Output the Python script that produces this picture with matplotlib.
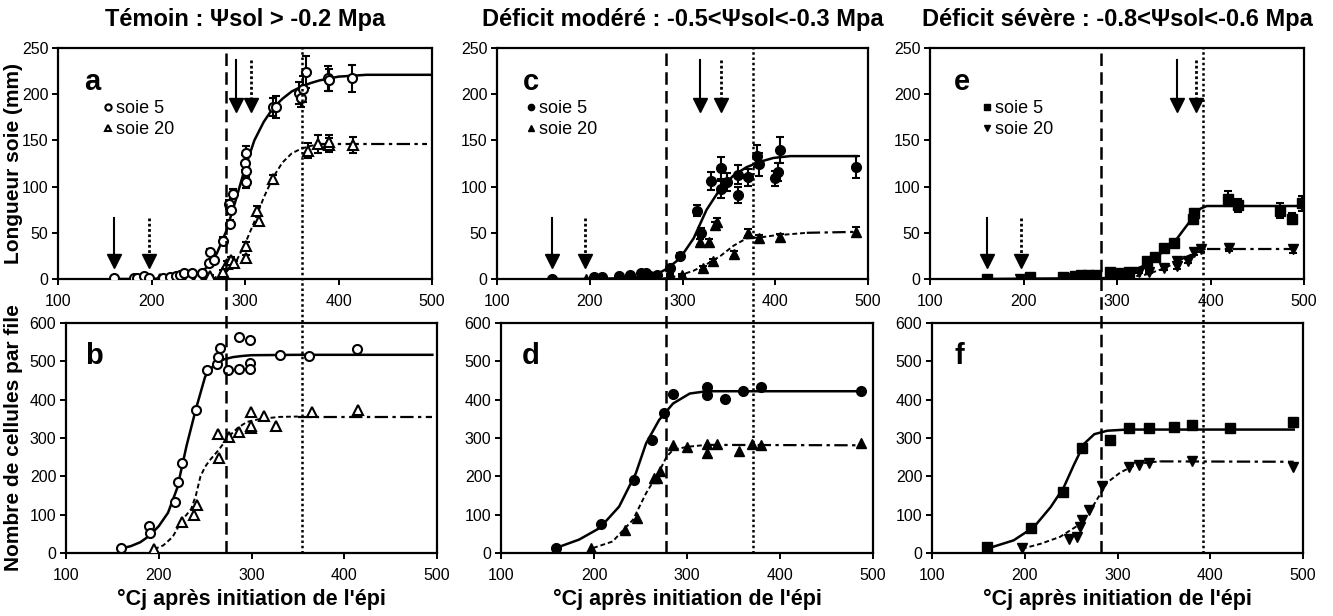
import numpy as np
import matplotlib
matplotlib.use("Agg")
import matplotlib.pyplot as plt
from matplotlib.lines import Line2D
from matplotlib.transforms import blended_transform_factory

plt.rcParams['font.family'] = ['Liberation Sans', 'DejaVu Sans']

# ---- longueur des soies (mm), panneaux a / c / e ----
a5_x = [160, 181, 184, 192, 197, 212, 220, 226, 230, 235, 243, 254, 261, 263, 267, 276, 283, 284, 285, 287,
        300, 301, 301, 301, 330, 333, 358, 360, 362, 365, 389, 390, 414]
a5_y = [1, 1, 1, 3, 1, 1, 2, 3, 4, 6, 6, 7, 17, 29, 21, 41, 81, 60, 75, 92,
        126, 117, 105, 136, 186, 186, 201, 196, 206, 224, 217, 215, 217]
a5_e = [1, 1, 1, 1, 1, 1, 1, 1, 1, 2, 2, 2, 3, 3, 3, 4, 5, 4, 5, 5,
        8, 8, 7, 8, 10, 12, 12, 10, 14, 17, 13, 12, 15]
a20_x = [195, 209, 220, 232, 240, 250, 263, 277, 281, 285, 288, 301, 301, 313, 315, 330, 367, 378, 390, 390, 416]
a20_y = [0, 0, 1, 1, 2, 2, 3, 8, 16, 21, 17, 36, 23, 74, 63, 108, 139, 146, 145, 148, 145]
a20_e = [0, 0, 0, 0, 1, 1, 1, 2, 3, 3, 3, 4, 3, 5, 5, 5, 8, 10, 8, 8, 9]
a5_fit_x = [160, 200, 230, 250, 260, 270, 280, 290, 300, 310, 320, 330, 340, 350, 360, 370, 380, 400, 430, 500]
a5_fit_y = [0, 0, 2, 6, 13, 28, 52, 85, 120, 150, 170, 185, 195, 203, 208, 212, 215, 219, 221, 221]
a20_fit_x = [265, 280, 290, 300, 310, 320, 330, 340, 350, 360, 370, 380, 495]
a20_fit_y = [0, 8, 18, 38, 62, 88, 110, 126, 136, 141, 144, 146, 146]

c5_x = [159, 205, 213, 231, 243, 255, 261, 265, 272, 287, 297, 316, 320, 331, 341, 342, 348, 360, 360, 371,
        380, 382, 400, 403, 405, 487]
c5_y = [0, 2, 2, 3, 4, 6, 6, 3, 4, 12, 25, 74, 50, 106, 120, 97, 105, 91, 113, 110,
        133, 124, 109, 116, 140, 121]
c5_e = [0, 0, 0, 0, 0, 1, 1, 0, 1, 2, 3, 6, 5, 10, 12, 9, 10, 9, 10, 9, 12, 12, 8, 10, 14, 12]
c20_x = [196, 247, 265, 287, 299, 319, 322, 329, 333, 335, 337, 355, 371, 382, 405, 487]
c20_y = [0, 1, 1, 4, 4, 40, 12, 40, 20, 58, 62, 27, 50, 44, 45, 51]
c20_e = [0, 0, 0, 1, 1, 3, 2, 3, 2, 4, 4, 3, 4, 4, 4, 5]
c5_fit_x = [160, 200, 240, 270, 283, 297, 312, 326, 341, 355, 369, 384, 398, 416, 434, 488]
c5_fit_y = [0, 0, 1, 4, 11, 22, 44, 75, 98, 112, 121, 127, 131, 133, 133, 133]
c20_fit_x = [195, 240, 270, 283, 297, 312, 326, 341, 355, 369, 384, 398, 434, 488]
c20_fit_y = [0, 0, 0, 1, 4, 9, 16, 25, 36, 44, 45, 47, 50, 51]

e5_x = [161, 207, 242, 250, 255, 262, 269, 278, 292, 302, 313, 332, 341, 350, 361, 381, 382, 419, 429, 474, 487, 498]
e5_y = [0, 2, 2, 1, 3, 4, 4, 4, 8, 7, 8, 20, 24, 34, 39, 65, 71, 87, 80, 74, 65, 82]
e5_e = [0, 0, 0, 0, 0, 0, 0, 0, 2, 1, 2, 2, 2, 3, 3, 5, 5, 8, 7, 8, 6, 8]
e20_x = [196, 250, 257, 266, 296, 312, 323, 334, 350, 364, 364, 376, 382, 390, 420, 488]
e20_y = [0, 0, 0, 0, 4, 4, 8, 8, 12, 14, 20, 20, 29, 32, 34, 32]
e20_e = [0, 0, 0, 0, 1, 1, 1, 1, 2, 3, 3, 3, 3, 3, 4, 4]
e5_fit_x = [160, 290, 296, 317, 332, 346, 360, 371, 380, 389, 396, 500]
e5_fit_y = [0, 1, 3, 9, 16, 27, 38, 53, 65, 76, 79, 79]
e20_fit_x = [196, 296, 317, 332, 346, 360, 374, 385, 396, 490]
e20_fit_y = [0, 0, 2.5, 5, 10, 16, 24, 29, 33, 33]

# ---- nombre de cellules par file, panneaux b / d / f ----
b5_x = [159, 190, 191, 217, 221, 225, 240, 252, 263, 264, 266, 275, 286, 286, 298, 298, 298, 331, 362, 414]
b5_y = [12, 70, 52, 133, 185, 236, 373, 477, 494, 512, 536, 477, 564, 479, 555, 496, 480, 516, 515, 532]
b20_x = [195, 225, 238, 241, 264, 265, 276, 287, 299, 299, 299, 314, 326, 365, 415]
b20_y = [10, 82, 100, 126, 310, 247, 303, 316, 368, 325, 331, 357, 331, 368, 373]
b5_fit_x = [160, 170, 180, 190, 200, 210, 220, 230, 240, 250, 260, 270, 280, 290, 300, 350, 400, 495]
b5_fit_y = [12, 18, 28, 45, 70, 105, 170, 280, 375, 460, 492, 505, 511, 514, 516, 517, 517, 517]
b20_fit_x = [195, 205, 215, 225, 235, 240, 245, 250, 255, 265, 275, 285, 295, 310, 330, 350, 495]
b20_fit_y = [10, 20, 42, 85, 115, 150, 200, 225, 242, 270, 303, 326, 342, 350, 355, 356, 356]

d5_x = [159, 207, 243, 262, 275, 285, 321, 322, 341, 360, 380, 487]
d5_y = [13, 76, 191, 295, 366, 414, 432, 412, 401, 423, 432, 423]
d20_x = [197, 233, 246, 265, 268, 271, 285, 300, 321, 322, 332, 356, 370, 380, 487]
d20_y = [13, 59, 91, 195, 195, 214, 282, 277, 284, 262, 284, 266, 284, 281, 288]
d5_fit_x = [159, 184, 206, 227, 245, 256, 270, 285, 303, 321, 487]
d5_fit_y = [13, 35, 65, 121, 208, 286, 347, 390, 416, 422, 422]
d20_fit_x = [199, 220, 242, 256, 270, 278, 285, 300, 321, 487]
d20_fit_y = [13, 30, 87, 156, 212, 251, 269, 277, 282, 281]

f5_x = [159, 207, 241, 262, 292, 312, 334, 361, 380, 421, 489]
f5_y = [16, 66, 158, 275, 295, 325, 325, 330, 334, 327, 342]
f20_x = [197, 248, 256, 260, 262, 269, 283, 312, 323, 334, 380, 489]
f20_y = [12, 37, 43, 68, 85, 113, 176, 225, 230, 235, 241, 225]
f5_fit_x = [159, 188, 210, 228, 242, 253, 264, 275, 289, 310, 490]
f5_fit_y = [11, 33, 68, 120, 171, 230, 285, 310, 319, 322, 322]
f20_fit_x = [197, 217, 238, 260, 275, 289, 303, 318, 332, 346, 490]
f20_fit_y = [11, 24, 42, 76, 128, 184, 210, 228, 236, 239, 238]

# fleches (soie 5 / soie 20) et lignes verticales (tirets / pointilles)
arrows5 = [[160, 290], [159, 319], [161, 364]]
arrows20 = [[197, 306], [195, 342], [197, 385]]
vline_dash = [272.5, 277.5, 282]
vline_dot = [354, 371, 392]

titles = ["Témoin : Ψsol > -0.2 Mpa",
          "Déficit modéré : -0.5<Ψsol<-0.3 Mpa",
          "Déficit sévère : -0.8<Ψsol<-0.6 Mpa"]
xlabel = "°Cj après initiation de l'épi"

W, H = 1333, 616
fig = plt.figure(figsize=(W / 100, H / 100), dpi=100)


def box(l, r, t, b):
    return [l / W, 1 - b / H, (r - l) / W, (b - t) / H]


top_boxes = [box(58, 432, 48, 279), box(497, 868, 48, 279), box(930, 1304, 48, 279)]
bot_boxes = [box(66, 437, 323, 553), box(501, 873, 323, 553), box(932, 1303, 323, 553)]

top = [fig.add_axes(bb) for bb in top_boxes]
bot = [fig.add_axes(bb) for bb in bot_boxes]


def style(ax, ymax, ystep):
    ax.set_xlim(100, 500)
    ax.set_ylim(0, ymax)
    ax.set_xticks(np.arange(100, 501, 100))
    ax.set_yticks(np.arange(0, ymax + 1, ystep))
    for s in ax.spines.values():
        s.set_linewidth(1.6)
    ax.tick_params(direction='out', length=4, width=1.4, labelsize=11.5, pad=3)
    ax.tick_params(axis='x', pad=7)


def fit(ax, x, y, solid):
    if solid:
        ax.plot(x, y, '-', color='k', lw=1.8, zorder=2)
    else:
        ax.plot(x[:-1], y[:-1], color='k', lw=1.4, ls=(0, (2.5, 1.5)), zorder=2)
        ax.plot(x[-2:], y[-2:], color='k', lw=1.6, ls=(0, (6, 2, 1.5, 2)), zorder=2)


def arrows(ax, xs, dotted):
    ls = (0, (1, 0.9)) if dotted else '-'
    lw = 2.0 if dotted else 1.5
    for x, (y0, y1) in zip(xs, [(66, 19), (237, 188)]):
        ax.plot([x, x], [y0, y1], color='k', lw=lw, ls=ls, zorder=4)
        ax.plot(x, y1, marker='v', ms=9.5, color='k', ls='none', zorder=4)


mk5 = [dict(marker='o', ms=6.5, mfc='white', mec='k', mew=1.5),
       dict(marker='o', ms=7, mfc='k', mec='k'),
       dict(marker='s', ms=6.5, mfc='k', mec='k')]
mk20 = [dict(marker='^', ms=7, mfc='white', mec='k', mew=1.5),
        dict(marker='^', ms=7.5, mfc='k', mec='k'),
        dict(marker='v', ms=7.5, mfc='k', mec='k')]

top_data = [
    (a5_x, a5_y, a5_e, a20_x, a20_y, a20_e, a5_fit_x, a5_fit_y, a20_fit_x, a20_fit_y),
    (c5_x, c5_y, c5_e, c20_x, c20_y, c20_e, c5_fit_x, c5_fit_y, c20_fit_x, c20_fit_y),
    (e5_x, e5_y, e5_e, e20_x, e20_y, e20_e, e5_fit_x, e5_fit_y, e20_fit_x, e20_fit_y),
]
bot_data = [
    (b5_x, b5_y, b20_x, b20_y, b5_fit_x, b5_fit_y, b20_fit_x, b20_fit_y),
    (d5_x, d5_y, d20_x, d20_y, d5_fit_x, d5_fit_y, d20_fit_x, d20_fit_y),
    (f5_x, f5_y, f20_x, f20_y, f5_fit_x, f5_fit_y, f20_fit_x, f20_fit_y),
]
letters_top = ['a', 'c', 'e']
letters_bot = ['b', 'd', 'f']
letter_x_top = [0.07, 0.07, 0.064]
letter_x_bot = [0.052, 0.057, 0.06]
legend_x = [0.12, 0.078, 0.138]

for i in range(3):
    ax = top[i]
    x5, y5, e5, x20, y20, e20, fx5, fy5, fx20, fy20 = top_data[i]
    style(ax, 250, 50)
    fit(ax, fx5, fy5, True)
    fit(ax, fx20, fy20, False)
    ax.errorbar(x20, y20, yerr=e20, ls='none', ecolor='k', elinewidth=1.5,
                capsize=3, capthick=1.5, zorder=3, **mk20[i])
    ax.errorbar(x5, y5, yerr=e5, ls='none', ecolor='k', elinewidth=1.5,
                capsize=3, capthick=1.5, zorder=3, **mk5[i])
    arrows(ax, arrows5[i], False)
    arrows(ax, arrows20[i], True)
    ax.set_title(titles[i], fontsize=17, fontweight='bold', pad=16)
    ax.text(letter_x_top[i], 0.82, letters_top[i], transform=ax.transAxes,
            fontsize=21, fontweight='bold', va='baseline', ha='left')
    h5 = Line2D([], [], ls='none', **{**mk5[i], 'ms': 4.5})
    h20 = Line2D([], [], ls='none', **{**mk20[i], 'ms': 5})
    ax.legend([h5, h20], ['soie 5', 'soie 20'], loc='upper left',
              bbox_to_anchor=(legend_x[i], 0.775), frameon=False, fontsize=13,
              handlelength=0.6, handletextpad=0.15, labelspacing=0.25,
              borderpad=0, borderaxespad=0)

    ax = bot[i]
    x5, y5, x20, y20, fx5, fy5, fx20, fy20 = bot_data[i]
    style(ax, 600, 100)
    fit(ax, fx5, fy5, True)
    fit(ax, fx20, fy20, False)
    ax.plot(x20, y20, ls='none', zorder=3, **mk20[i])
    ax.plot(x5, y5, ls='none', zorder=3, **mk5[i])
    ax.set_xlabel(xlabel, fontsize=15.5, fontweight='bold', labelpad=4)
    ax.text(letter_x_bot[i], 0.82, letters_bot[i], transform=ax.transAxes,
            fontsize=21, fontweight='bold', va='baseline', ha='left')

    # lignes verticales traversant les deux panneaux
    tr = blended_transform_factory(ax.transData, fig.transFigure)
    y_lo, y_hi = 1 - 553 / H, 1 - 48 / H
    fig.add_artist(Line2D([vline_dash[i]] * 2, [y_lo, y_hi], transform=tr,
                          color='k', lw=1.8, ls=(0, (5, 2.5)), zorder=5))
    fig.add_artist(Line2D([vline_dot[i]] * 2, [y_lo, y_hi], transform=tr,
                          color='k', lw=1.8, ls=(0, (1, 1.1)), zorder=5))

fig.text(14 / W, 1 - 163 / H, "Longueur soie (mm)", rotation=90, ha='center',
         va='center', fontsize=15, fontweight='bold')
fig.text(14 / W, 1 - 438 / H, "Nombre de cellules par file", rotation=90, ha='center',
         va='center', fontsize=15, fontweight='bold')

fig.savefig("out.png", dpi=100)
